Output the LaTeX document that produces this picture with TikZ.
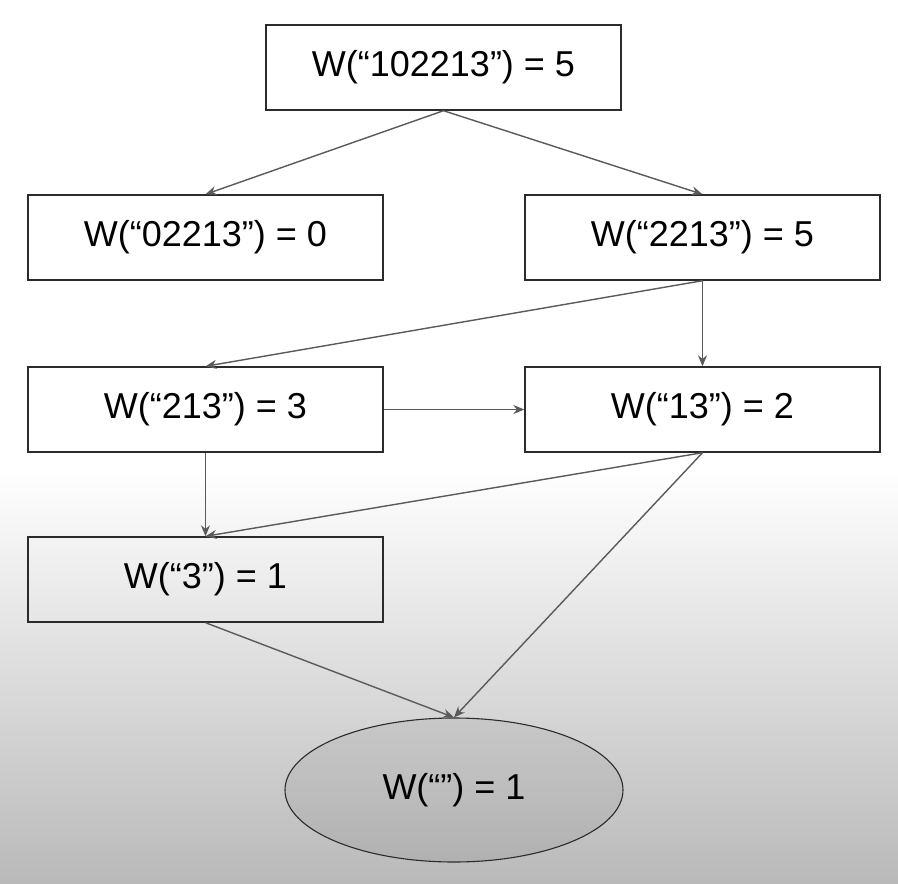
\documentclass[tikz,border=0pt]{standalone}
\usepackage{fontspec}
\setmainfont{Liberation Sans}
\usetikzlibrary{arrows.meta,shapes.geometric}
\definecolor{boxline}{HTML}{2B2B2B}
\definecolor{arrowline}{HTML}{5A5A5A}
\definecolor{bgbottom}{HTML}{B9B9B9}
\tikzset{
  wbox/.style={draw=boxline, line width=1.4pt, rectangle, minimum width=355pt,
    minimum height=85pt, inner sep=0pt, font=\fontsize{36}{42}\selectfont},
  wend/.style={draw=boxline, line width=1.1pt, ellipse, minimum width=338pt,
    minimum height=144pt, inner sep=0pt, fill=black, fill opacity=0.06,
    text opacity=1, font=\fontsize{36}{42}\selectfont},
  link/.style={draw=arrowline, line width=1.4pt,
    -{Stealth[length=11pt,width=9pt]}}
}
\begin{document}
\begin{tikzpicture}[x=1pt,y=-1pt]
  \useasboundingbox (0,0) rectangle (898,884);
  % page background: white top, grey fade towards the bottom
  \fill[white] (0,0) rectangle (898,470);
  \shade[top color=white, bottom color=bgbottom] (0,469) rectangle (898,884);

  \node[wbox] (w102213) at (443.5,67.5) {W(“102213”) = 5};
  \node[wbox] (w02213)  at (205.5,237.5) {W(“02213”) = 0};
  \node[wbox] (w2213)   at (702.5,237.5) {W(“2213”) = 5};
  \node[wbox] (w213)    at (205.5,409.5) {W(“213”) = 3};
  \node[wbox] (w13)     at (702.5,409.5) {W(“13”) = 2};
  \node[wbox] (w3)      at (205.5,579.5) {W(“3”) = 1};
  \node[wend] (wempty)  at (454,790) {W(“”) = 1};

  \draw[link] (w102213.south) -- (w02213.north);
  \draw[link] (w102213.south) -- (w2213.north);
  \draw[link] (w2213.south) -- (w213.north);
  \draw[link] (w2213.south) -- (w13.north);
  \draw[link] (w213.east) -- (w13.west);
  \draw[link] (w213.south) -- (w3.north);
  \draw[link] (w13.south) -- (w3.north);
  \draw[link] (w13.south) -- (wempty.north);
  \draw[link] (w3.south) -- (wempty.north);
\end{tikzpicture}
\end{document}
